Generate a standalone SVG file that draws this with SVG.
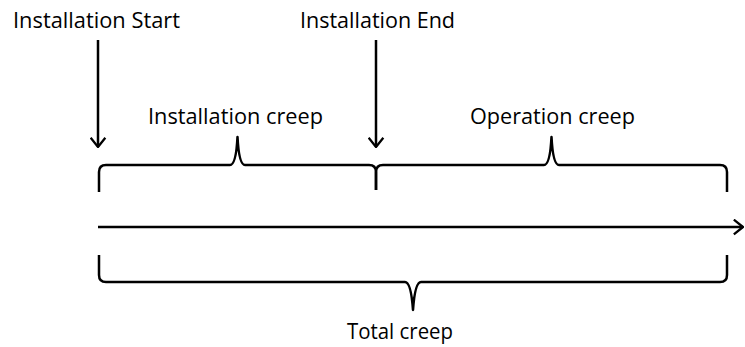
<svg xmlns="http://www.w3.org/2000/svg" width="745" height="347" viewBox="0 0 745 347">
  <style>
    .line { fill: none; stroke: #000; stroke-width: 2.5; stroke-linecap: butt; stroke-linejoin: round; }
    .lbl { font-family: "Open Sans", "Liberation Sans", sans-serif; font-size: 21px; fill: #000; }
  </style>
  <defs>
    <marker id="head" viewBox="0 0 12 18" refX="11" refY="9" markerWidth="11" markerHeight="17" markerUnits="userSpaceOnUse" orient="auto">
      <path d="M1,1 L11,9 L1,17" fill="none" stroke="#000" stroke-width="2.5"/>
    </marker>
  </defs>

  <!-- event labels -->
  <g id="installation-start">
    <text class="lbl" x="13" y="28" textLength="167" lengthAdjust="spacingAndGlyphs">Installation Start</text>
  </g>
  <g id="installation-end">
    <text class="lbl" x="300" y="28" textLength="155" lengthAdjust="spacingAndGlyphs">Installation End</text>
  </g>
  <g id="installation-creep">
    <text class="lbl" x="148" y="124" textLength="175" lengthAdjust="spacingAndGlyphs">Installation creep</text>
  </g>
  <g id="operation-creep">
    <text class="lbl" x="470" y="124" textLength="165" lengthAdjust="spacingAndGlyphs">Operation creep</text>
  </g>
  <g id="total-creep">
    <text class="lbl" x="347" y="339" textLength="106" lengthAdjust="spacingAndGlyphs">Total creep</text>
  </g>

  <g id="connectors">
    <!-- event markers -->
    <line class="line" x1="98" y1="40" x2="98" y2="147" marker-end="url(#head)"/>
    <line class="line" x1="376" y1="40" x2="376" y2="147" marker-end="url(#head)"/>
    <!-- time axis -->
    <line class="line" x1="98" y1="227" x2="743" y2="227" marker-end="url(#head)"/>
    <!-- installation creep brace -->
    <path class="line" d="M99,192 L99,172 Q99,165 106,165 L230,165 Q236,165 237.5,137 Q239,165 245,165 L369,165 Q376,165 376,172 L376,190"/>
    <!-- operation creep brace -->
    <path class="line" d="M376,190 L376,172 Q376,165 383,165 L544,165 Q550,165 551.5,137 Q553,165 559,165 L720,165 Q727,165 727,172 L727,192"/>
    <!-- total creep brace -->
    <path class="line" d="M99,255 L99,275 Q99,282 106,282 L405,282 Q411,282 413,310 Q415,282 421,282 L720,282 Q727,282 727,275 L727,255"/>
  </g>
</svg>
